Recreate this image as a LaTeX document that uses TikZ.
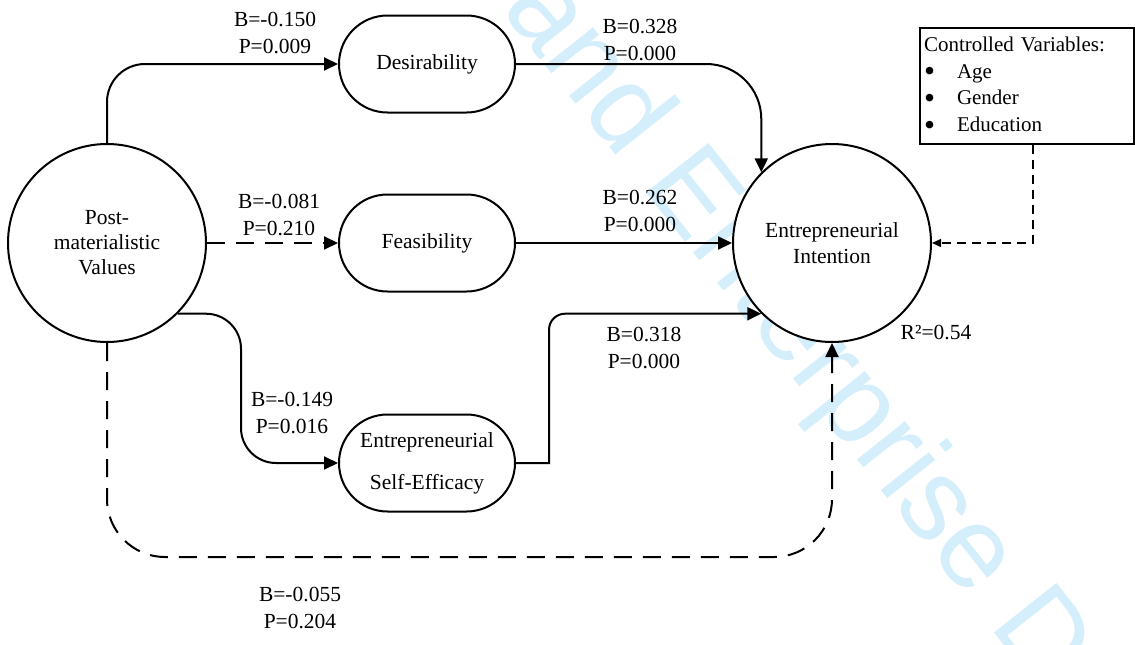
\documentclass[tikz,border=0pt]{standalone}
\usepackage{fontspec}
\usepackage{graphicx}
\setmainfont{Liberation Serif}
\newfontfamily\wmfont{Liberation Sans}
\usetikzlibrary{shapes.misc,arrows.meta,calc}
\definecolor{wmblue}{RGB}{212,238,251}
\newcommand{\listdot}{\makebox[33pt][l]{\raisebox{-0.17em}{\scalebox{1.5}{\textbullet}}}}

\begin{document}
\begin{tikzpicture}[x=1pt,y=-1pt,
  every node/.style={font=\fontsize{21.5}{27}\selectfont, inner sep=0pt},
  latent/.style={circle, draw, line width=2pt, fill=white, minimum size=198pt, align=center},
  stadium/.style={rounded rectangle, draw, line width=2pt, fill=white,
                  minimum width=176pt, minimum height=97pt, align=center},
  link/.style={line width=2pt, -{Triangle[length=14pt,width=13pt]}},
  nslink/.style={link, dash pattern=on 18pt off 11pt},
  coef/.style={align=center},
]
\useasboundingbox (0,0) rectangle (1135,645);

% background watermark
\begin{scope}
  \clip (0,0) rectangle (1135,645);
  \node[anchor=base west, rotate=-51.6, text=wmblue,
        font=\fontsize{116}{116}\wmfont] (wm) at (500,9) {and Enterprise D};
\end{scope}

% constructs
\node[latent, font=\fontsize{21.5}{25}\selectfont] (pmv) at (107,243) {Post-\\materialistic\\Values};
\node[stadium] (des) at (427,64) {Desirability};
\node[stadium] (fea) at (427,243) {Feasibility};
\node[stadium, font=\fontsize{21.5}{42}\selectfont] (ese) at (427,463) {Entrepreneurial\\Self-Efficacy};
\node[latent, font=\fontsize{21.5}{26}\selectfont] (ei) at (832,243) {Entrepreneurial\\Intention};

% controls
\node[draw, line width=1.3pt, minimum width=214pt, minimum height=116pt, text width=206pt,
      inner xsep=4pt, align=left, font=\fontsize{21}{26.7}\selectfont] (ctrl) at (1027,86)
  {Controlled Variables:\\
   \listdot Age\\
   \listdot Gender\\
   \listdot Education};

% paths
\draw[link, rounded corners=38] (pmv.north) |- (des.west);
\draw[nslink] (pmv.east) -- (fea.west);
\draw[link, rounded corners=35] (pmv.-45) -| ([xshift=-97pt]ese.west) [rounded corners=45] -- (ese.west);
\draw[link, rounded corners=55] (des.east) -| (ei.135);
\draw[link] (fea.east) -- (ei.west);
\coordinate (eseout) at ($(ese.east)+(33,0)$);
\draw[link] (ese.east) -- (eseout) [rounded corners=16] -- (eseout |- ei.-135) [rounded corners=55] -- (ei.-135);
\draw[nslink, rounded corners=58] (pmv.south) -- ++(0,214) -| (ei.south);
\draw[line width=1.3pt, dash pattern=on 9pt off 6pt, -{Triangle[length=9pt,width=8pt]}]
  ([xshift=6pt]ctrl.south) |- (ei.east);

% coefficients
\node[coef] (c1) at (275,33) {B=-0.150\\P=0.009};
\node[coef] (c2) at (279,215) {B=-0.081\\P=0.210};
\node[coef] (c3) at (292,413) {B=-0.149\\P=0.016};
\node[coef] (c4) at (300,608) {B=-0.055\\P=0.204};
\node[coef] (c5) at (640,40) {B=0.328\\P=0.000};
\node[coef] (c6) at (640,211) {B=0.262\\P=0.000};
\node[coef] (c7) at (644,348) {B=0.318\\P=0.000};
\node (r2) at (936,332) {R²=0.54};
\end{tikzpicture}
\end{document}
